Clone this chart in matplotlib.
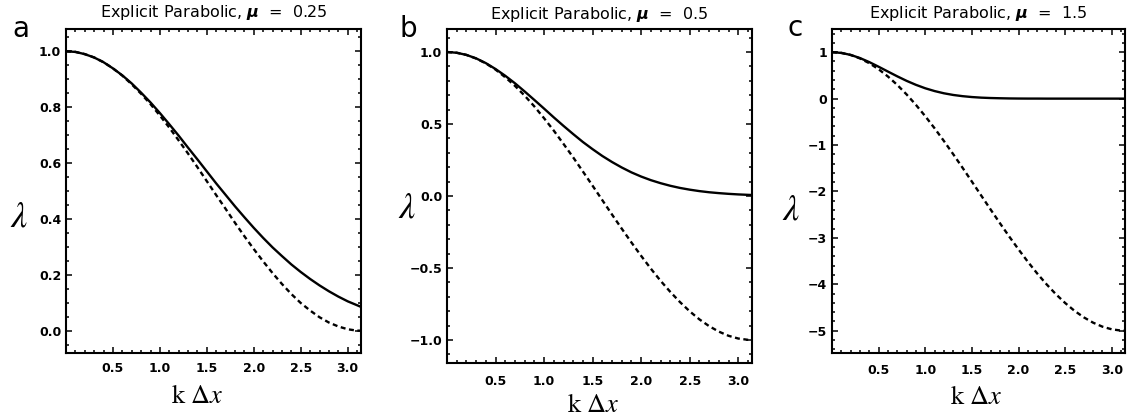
import matplotlib
matplotlib.use("Agg")
import matplotlib.pyplot as plt
from matplotlib.ticker import MultipleLocator, FuncFormatter

# ---- data ----
k_dx = [0.0, 0.1, 0.2, 0.3, 0.4, 0.5, 0.6, 0.7, 0.8, 0.9, 1.0, 1.1, 1.2, 1.3, 1.4, 1.5,
        1.6, 1.7, 1.8, 1.9, 2.0, 2.1, 2.2, 2.3, 2.4, 2.5, 2.6, 2.7, 2.8, 2.9, 3.0, 3.1, 3.1416]

mu_values = [0.25, 0.5, 1.5]
panel_letters = ["a", "b", "c"]

# solid curves
solid_a = [1.000, 0.998, 0.990, 0.978, 0.961, 0.939, 0.914, 0.885, 0.852, 0.817, 0.779, 0.739,
           0.698, 0.655, 0.613, 0.570, 0.527, 0.486, 0.445, 0.406, 0.368, 0.332, 0.298, 0.267,
           0.237, 0.210, 0.185, 0.162, 0.141, 0.122, 0.105, 0.091, 0.085]
solid_b = [1.000, 0.995, 0.980, 0.956, 0.923, 0.882, 0.835, 0.783, 0.726, 0.667, 0.607, 0.546,
           0.487, 0.430, 0.375, 0.325, 0.278, 0.236, 0.198, 0.164, 0.135, 0.110, 0.089, 0.071,
           0.056, 0.044, 0.034, 0.026, 0.020, 0.015, 0.011, 0.008, 0.007]
solid_c = [1.000, 0.985, 0.942, 0.874, 0.787, 0.687, 0.583, 0.480, 0.383, 0.297, 0.223, 0.163,
           0.115, 0.079, 0.053, 0.034, 0.021, 0.013, 0.008, 0.004, 0.002, 0.001, 0.001, 0.000,
           0.000, 0.000, 0.000, 0.000, 0.000, 0.000, 0.000, 0.000, 0.000]

# dashed curves
dashed_a = [1.000, 0.998, 0.990, 0.978, 0.961, 0.939, 0.913, 0.882, 0.848, 0.811, 0.770, 0.727,
            0.681, 0.634, 0.585, 0.535, 0.485, 0.436, 0.386, 0.338, 0.292, 0.248, 0.206, 0.167,
            0.131, 0.099, 0.072, 0.048, 0.029, 0.015, 0.005, 0.000, 0.000]
dashed_b = [1.000, 0.995, 0.980, 0.955, 0.921, 0.878, 0.825, 0.765, 0.697, 0.622, 0.540, 0.454,
            0.362, 0.268, 0.170, 0.071, -0.029, -0.129, -0.227, -0.323, -0.416, -0.505, -0.589,
            -0.666, -0.737, -0.801, -0.857, -0.904, -0.942, -0.971, -0.990, -0.999, -1.000]
dashed_c = [1.000, 0.985, 0.940, 0.866, 0.763, 0.633, 0.476, 0.295, 0.090, -0.135, -0.379, -0.639,
            -0.913, -1.198, -1.490, -1.788, -2.088, -2.387, -2.682, -2.970, -3.248, -3.515, -3.766,
            -3.999, -4.212, -4.403, -4.571, -4.712, -4.827, -4.913, -4.970, -4.997, -5.000]

x_ticks = [0.5, 1.0, 1.5, 2.0, 2.5, 3.0]
y_ticks_a = [0.0, 0.2, 0.4, 0.6, 0.8, 1.0]
y_ticks_b = [-1.0, -0.5, 0.0, 0.5, 1.0]
y_ticks_c = [-5, -4, -3, -2, -1, 0, 1]

# ---- layout ----
plt.rcParams['mathtext.fontset'] = 'stix'
fig = plt.figure(figsize=(11.27, 4.16), dpi=100)
W, H = 1127, 416

def add_ax(l, r, t, b):
    return fig.add_axes([l / W, (H - b) / H, (r - l) / W, (b - t) / H])

def fmt_factory(spec):
    return FuncFormatter(lambda v, p: (spec % v).replace('-', '\u2212'))

axes = [add_ax(66, 361, 29, 353), add_ax(447, 752, 29, 363), add_ax(832, 1125, 29, 353)]
solids = [solid_a, solid_b, solid_c]
dasheds = [dashed_a, dashed_b, dashed_c]
yticks_all = [y_ticks_a, y_ticks_b, y_ticks_c]
ylims = [(-0.08, 1.08), (-1.16, 1.16), (-5.48, 1.5)]
yminors = [0.05, 0.1, 0.2]
yfmts = ['%.1f', '%.1f', '%d']
xpads = [6.5, 8.5, 8.0]
xlabel_pos = [(0.444, -0.154), (0.479, -0.147), (0.491, -0.157)]
ylabel_pos = [(-0.159, 0.42), (-0.131, 0.467), (-0.14, 0.444)]
letter_pos = [(21, 37), (408, 37), (795, 36)]
title_base = [17, 19, 18]

for i, ax in enumerate(axes):
    ax.plot(k_dx, solids[i], color='black', lw=1.7, solid_joinstyle='round')
    ax.plot(k_dx, dasheds[i], color='black', lw=1.7, linestyle=(0, (2.1, 1.5)))
    ax.set_xlim(0, 3.1416)
    ax.set_ylim(*ylims[i])
    ax.set_xticks(x_ticks)
    ax.set_yticks(yticks_all[i])
    ax.xaxis.set_minor_locator(MultipleLocator(0.1))
    ax.yaxis.set_minor_locator(MultipleLocator(yminors[i]))
    ax.xaxis.set_major_formatter(fmt_factory('%.1f'))
    ax.yaxis.set_major_formatter(fmt_factory(yfmts[i]))
    for s in ax.spines.values():
        s.set_linewidth(1.5)
    ax.tick_params(which='both', direction='in', top=True, right=True, width=1.1)
    ax.tick_params(which='major', length=4)
    ax.tick_params(which='minor', length=2)
    ax.tick_params(axis='x', which='major', pad=xpads[i])
    ax.tick_params(axis='y', which='major', pad=3.5)
    for lab in ax.get_xticklabels() + ax.get_yticklabels():
        lab.set_fontweight('bold')
        lab.set_fontsize(9)
    ax.set_xlabel(r'k $\Delta x$', fontsize=19, family='STIXGeneral')
    ax.xaxis.set_label_coords(*xlabel_pos[i])
    ax.xaxis.label.set_va('baseline')
    ax.set_ylabel(r'$\lambda$', fontsize=26, rotation=0)
    ax.yaxis.set_label_coords(*ylabel_pos[i])
    ax.yaxis.label.set_va('center')
    ax.yaxis.label.set_ha('center')
    # title
    pos = ax.get_position()
    cx = (pos.x0 + pos.x1) / 2
    fig.text(cx, (H - title_base[i]) / H,
             r'Explicit Parabolic, $\mathbfit{\mu}$  =  ' + f'{mu_values[i]:g}',
             ha='center', va='baseline', fontsize=11.5, math_fontfamily='dejavusans')
    lx, ly = letter_pos[i]
    fig.text(lx / W, (H - ly) / H, panel_letters[i], ha='center', va='baseline', fontsize=20)

fig.savefig('out.png', dpi=100)
